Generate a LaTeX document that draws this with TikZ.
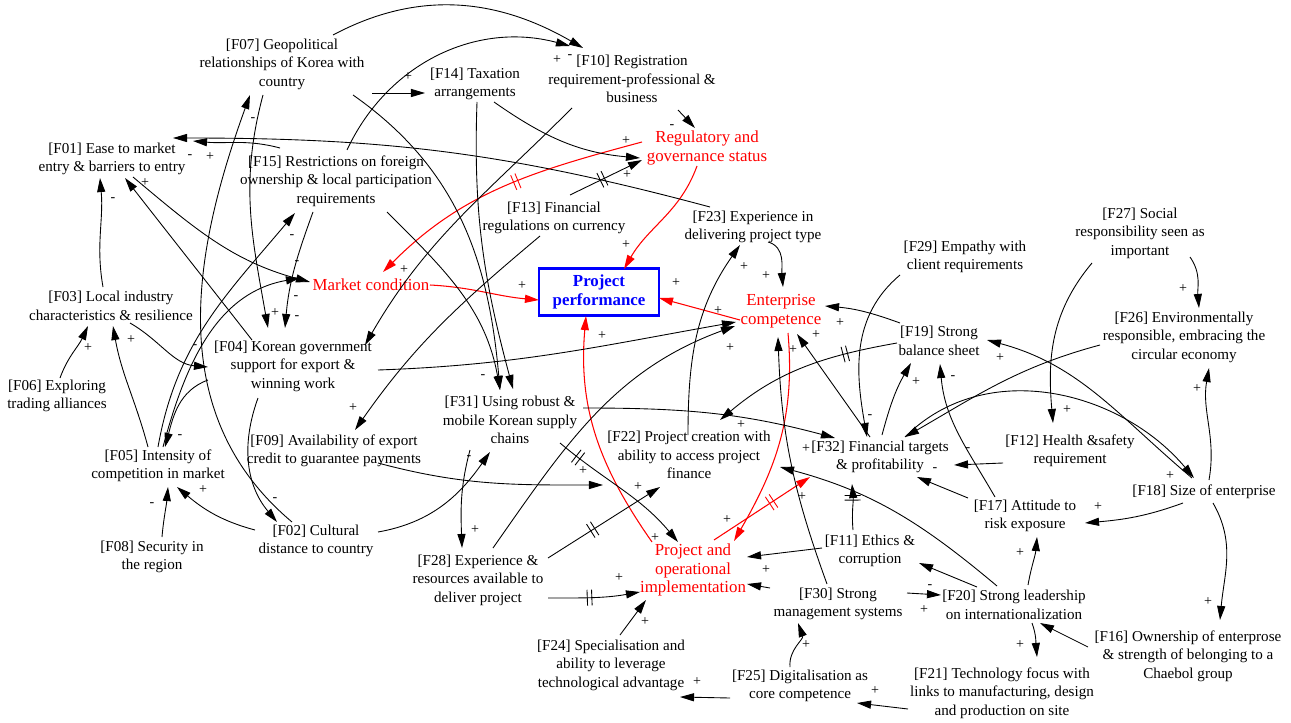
\documentclass[tikz,border=0pt]{standalone}
\usepackage{fontspec}
\setmainfont{Liberation Serif}
\usetikzlibrary{arrows.meta,calc,decorations.markings}

\begin{document}
\begin{tikzpicture}[x=0.02cm, y=-0.02cm,
  >={Triangle[length=8pt,width=4.6pt]},
  fac/.style={align=center, inner sep=1pt, font=\fontsize{8.6}{10.5}\selectfont},
  agg/.style={fac, text=red, font=\fontsize{9.6}{10.6}\selectfont},
  perfbox/.style={draw=blue, line width=1.2pt, text=blue, align=center, minimum width=2.4cm, minimum height=0.94cm, inner sep=1pt, font=\fontsize{9.6}{10.8}\selectfont\bfseries},
  link/.style={->, line width=0.5pt},
  rlink/.style={->, red, line width=0.6pt},
  pol/.style={inner sep=0pt, font=\fontsize{8}{9}\selectfont},
  delaymark/.style={postaction={decorate, decoration={markings, mark=at position #1 with {\draw[-, line width=0.5pt] (-1.3pt,-4.5pt) -- (-1.3pt,4.5pt) (1.3pt,-4.5pt) -- (1.3pt,4.5pt);}}}},
  delaymark/.default=0.5]
\useasboundingbox (0,0) rectangle (1291,723);

% factors
\node[fac] (f07) at (282,64) {[F07] Geopolitical\\relationships of Korea with\\country};
\node[fac] (f10) at (632,79) {[F10] Registration\\requirement-professional \&\\business};
\node[fac] (f14) at (475,84) {[F14] Taxation\\arrangements};
\node[fac] (f01) at (112,159) {[F01] Ease to market\\entry \& barriers to entry};
\node[fac] (f15) at (336,181) {[F15] Restrictions on foreign\\ownership \& local participation\\requirements};
\node[fac] (f13) at (554,218) {[F13] Financial\\regulations on currency};
\node[fac] (f23) at (753,227) {[F23] Experience in\\delivering project type};
\node[fac] (f27) at (1140,233) {[F27] Social\\responsibility seen as\\important};
\node[fac] (f29) at (965,257) {[F29] Empathy with\\client requirements};
\node[fac] (f03) at (111,306) {[F03] Local industry\\characteristics \& resilience};
\node[fac] (f26) at (1184,337) {[F26] Environmentally\\responsible, embracing the\\circular economy};
\node[fac] (f19) at (939,341) {[F19] Strong\\balance sheet};
\node[fac] (f04) at (293,366) {[F04] Korean government\\support for export \&\\winning work};
\node[fac] (f06) at (57,396) {[F06] Exploring\\trading alliances};
\node[fac] (f31) at (510,420) {[F31] Using robust \&\\mobile Korean supply\\chains};
\node[fac] (f09) at (334,451) {[F09] Availability of export\\credit to guarantee payments};
\node[fac] (f22) at (689,455) {[F22] Project creation with\\ability to access project\\finance};
\node[fac] (f32) at (880,457) {[F32] Financial targets\\\& profitability};
\node[fac] (f12) at (1070,451) {[F12] Health \&safety\\requirement};
\node[fac] (f05) at (158,466) {[F05] Intensity of\\competition in market};
\node[fac] (f18) at (1204,492) {[F18] Size of enterprise};
\node[fac] (f17) at (1025,516) {[F17] Attitude to\\risk exposure};
\node[fac] (f02) at (316,541) {[F02] Cultural\\distance to country};
\node[fac] (f11) at (870,551) {[F11] Ethics \&\\corruption};
\node[fac] (f08) at (152,557) {[F08] Security in\\the region};
\node[fac] (f28) at (478,580) {[F28] Experience \&\\resources available to\\deliver project};
\node[fac] (f30) at (838,604) {[F30] Strong\\management systems};
\node[fac] (f20) at (1014,605) {[F20] Strong leadership\\on internationalization};
\node[fac] (f24) at (611,665) {[F24] Specialisation and\\ability to leverage\\technological advantage};
\node[fac] (f16) at (1188,656) {[F16] Ownership of enterprose\\\& strength of belonging to a\\Chaebol group};
\node[fac] (f25) at (800,686) {[F25] Digitalisation as\\core competence};
\node[fac] (f21) at (1002,693) {[F21] Technology focus with\\links to manufacturing, design\\and production on site};

% aggregates
\node[agg] (reg) at (707,148) {Regulatory and\\governance status};
\node[agg] (mkt) at (371,285) {Market condition};
\node[agg] (ent) at (781,311) {Enterprise\\competence};
\node[agg] (poi) at (693,570) {Project and\\operational\\implementation};
\node[perfbox] (perf) at (599,292) {Project\\performance};

% red links
\draw[rlink] ($(mkt)+(59,0)$) to[out=-3,in=175] ($(perf)+(-60,8)$);
\draw[rlink] ($(ent)+(-41,9)$) -- ($(perf)+(60,6)$);
\draw[rlink] ($(reg)+(-10,18)$) to[out=-110,in=60] ($(perf)+(25,-23)$);
\draw[rlink, delaymark=0.45] ($(reg)+(-65,-6)$) to[out=195,in=45] ($(mkt)+(12,-13)$);
\draw[rlink] ($(poi)+(-41,-28)$) to[out=125,in=-95] ($(perf)+(-13,24)$);
\draw[rlink] ($(ent)+(7,22)$) to[out=-85,in=60] ($(poi)+(41,-29)$);
\draw[rlink, delaymark=0.6] ($(poi)+(21,-30)$) -- ($(f32)+(-70,20)$);

% black links
\draw[link] ($(f07)+(51,-29)$) to[out=28,in=150] ($(f10)+(-49,-31)$);
\draw[link] ($(f15)+(11,-31)$) to[out=65,in=165] ($(f10)+(-62,-33)$);
\draw[link] ($(f07)+(90,29)$) -- ($(f14)+(-50,9)$);
\draw[link] ($(f10)+(46,31)$) -- ($(reg)+(-12,-20)$);
\draw[link] ($(f14)+(19,18)$) to[out=-35,in=175] ($(reg)+(-67,10)$);
\draw[link, delaymark=0.45] ($(f13)+(16,-23)$) -- ($(reg)+(-65,12)$);
\draw[link] ($(f23)+(-43,-20)$) to[out=165,in=0] ($(f01)+(61,-21)$);
\draw[link] ($(f15)+(-56,-33)$) to[out=165,in=-5] ($(f01)+(81,-18)$);
\draw[link] ($(f03)+(-8,-19)$) to[out=100,in=-85] ($(f01)+(-12,19)$);
\draw[link] ($(f04)+(-41,-26)$) to[out=128,in=-52] ($(f01)+(13,19)$);
\draw[link] ($(f01)+(21,18)$) to[out=-40,in=165] ($(mkt)+(-61,-3)$);
\draw[link] ($(f06)+(3,-18)$) to[out=70,in=-115] ($(f03)+(-23,20)$);
\draw[link] ($(f05)+(-10,-19)$) to[out=105,in=-80] ($(f03)+(2,20)$);
\draw[link] ($(f03)+(19,17)$) to[out=-30,in=175] ($(f04)+(-85,1)$);
\draw[link] ($(f04)+(-85,14)$) to[out=200,in=75] ($(f05)+(7,-19)$);
\draw[link] ($(f05)+(0,-19)$) to[out=80,in=230] ($(f15)+(-41,32)$);
\draw[link] ($(f05)+(5,-19)$) to[out=75,in=190] ($(mkt)+(-71,-7)$);
\draw[link] ($(f15)+(-23,31)$) to[out=-110,in=85] ($(f04)+(-8,-38)$);
\draw[link] ($(f07)+(-19,31)$) to[out=-105,in=100] ($(f04)+(-25,-38)$);
\draw[link] ($(f02)+(-24,-19)$) to[out=140,in=-110] ($(f07)+(-32,31)$);
\draw[link] ($(f04)+(-35,32)$) to[out=-110,in=130] ($(f02)+(-39,-19)$);
\draw[link] ($(f02)+(-61,-11)$) to[out=165,in=-40] ($(f05)+(19,21)$);
\draw[link] ($(f08)+(10,-20)$) to[out=85,in=-95] ($(f05)+(10,21)$);
\draw[link] ($(f02)+(62,-9)$) to[out=10,in=-125] ($(f31)+(-20,32)$);
\draw[link] ($(f09)+(44,12)$) to[out=-15,in=180] ($(f22)+(-86,30)$);
\draw[link] ($(f31)+(-40,30)$) to[out=-105,in=92] ($(f28)+(-16,-32)$);
\draw[link] ($(f28)+(15,-32)$) to[out=55,in=200] ($(ent)+(-46,15)$);
\draw[link, delaymark=0.4] ($(f28)+(70,-22)$) -- ($(f22)+(-29,32)$);
\draw[link, delaymark=0.45] ($(f28)+(70,18)$) to[out=0,in=190] ($(poi)+(-53,22)$);
\draw[link] ($(f24)+(9,-30)$) -- ($(poi)+(-47,30)$);
\draw[link] ($(f25)+(-70,12)$) -- ($(f24)+(69,32)$);
\draw[link] ($(f25)+(-10,-19)$) to[out=95,in=-70] ($(f30)+(-40,19)$);
\draw[link] ($(f21)+(-94,16)$) -- ($(f25)+(57,17)$);
\draw[link] ($(f20)+(18,18)$) to[out=-70,in=95] ($(f21)+(35,-36)$);
\draw[link] ($(f16)+(-100,-9)$) -- ($(f20)+(26,18)$);
\draw[link] ($(f18)+(9,11)$) to[out=-60,in=85] ($(f16)+(32,-36)$);
\draw[link] ($(f18)+(-21,11)$) to[out=200,in=5] ($(f17)+(60,7)$);
\draw[link] ($(f18)+(5,-12)$) to[out=80,in=-100] ($(f26)+(25,31)$);
\draw[link] ($(f18)+(-12,-14)$) to[out=140,in=-15] ($(f19)+(48,-1)$);
\draw[link] ($(f32)+(25,-20)$) to[out=45,in=130] ($(f18)+(-10,-14)$);
\draw[link] ($(f27)+(50,24)$) to[out=-55,in=95] ($(f26)+(15,-29)$);
\draw[link] ($(f27)+(-48,30)$) to[out=-130,in=95] ($(f12)+(-17,-28)$);
\draw[link] ($(f29)+(-65,18)$) to[out=-140,in=100] ($(f32)+(-13,-20)$);
\draw[link] ($(f32)+(2,-22)$) to[out=75,in=-120] ($(f19)+(-28,22)$);
\draw[link] ($(f17)+(-30,-19)$) to[out=120,in=-85] ($(f19)+(1,23)$);
\draw[link] ($(f19)+(-39,-18)$) to[out=160,in=-5] ($(ent)+(44,-5)$);
\draw[link] ($(f32)+(-10,-20)$) -- ($(ent)+(16,23)$);
\draw[link] ($(f12)+(-67,12)$) -- ($(f32)+(74,8)$);
\draw[link] ($(f17)+(-57,-18)$) -- ($(f32)+(37,20)$);
\draw[link, delaymark=0.7] ($(f11)+(-17,-21)$) to[out=95,in=-85] ($(f32)+(-28,27)$);
\draw[link] ($(f20)+(-17,-19)$) to[out=140,in=-15] ($(f22)+(91,12)$);
\draw[link] ($(f30)+(-11,-20)$) to[out=110,in=-88] ($(ent)+(-3,26)$);
\draw[link] ($(f23)+(15,15)$) to[out=-15,in=95] ($(ent)+(2,-24)$);
\draw[link] ($(f22)+(-1,-20)$) to[out=90,in=235] ($(f23)+(-13,18)$);
\draw[link] ($(f31)+(73,-12)$) to[out=0,in=165] ($(f32)+(-45,-19)$);
\draw[link] ($(f04)+(85,4)$) to[out=2,in=190] ($(ent)+(-45,11)$);
\draw[link] ($(f13)+(-14,18)$) to[out=220,in=55] ($(f09)+(21,-21)$);
\draw[link] ($(f10)+(-60,29)$) to[out=225,in=60] ($(f04)+(72,-21)$);
\draw[link] ($(f15)+(51,31)$) to[out=-45,in=100] ($(f31)+(-10,-30)$);
\draw[link] ($(f14)+(2,18)$) to[out=-92,in=105] ($(f31)+(3,-31)$);
\draw[link] ($(f07)+(71,31)$) to[out=-35,in=95] ($(f31)+(-10,-30)$);
\draw[link] ($(f11)+(-48,-3)$) -- ($(poi)+(54,-13)$);
\draw[link] ($(f30)+(-68,-16)$) -- ($(poi)+(54,14)$);
\draw[link] ($(f30)+(69,-11)$) -- ($(f20)+(-73,-10)$);
\draw[link] ($(f20)+(-37,-18)$) -- ($(f11)+(49,12)$);
\draw[link] ($(f20)+(14,-20)$) to[out=80,in=-95] ($(f17)+(12,21)$);
\draw[link] ($(f26)+(-84,8)$) to[out=195,in=30] ($(f32)+(25,-20)$);
\draw[link, delaymark=0.27] ($(f19)+(-42,2)$) to[out=190,in=40] ($(f22)+(31,-35)$);
\draw[link, delaymark=0.15] ($(f31)+(50,23)$) to[out=-40,in=130] ($(poi)+(-15,-28)$);

% polarities
\foreach \px/\py [count=\i] in {408/77,557/60,210/157,145/183,626/141,627/175,626/245,404/270,275/313,522/286,676/283,744/267,766/276,718/311,602/336,730/348,793/350,840/323,816/335,1183/289,1000/358,916/382,1197/389,88/348,131/340,353/408,741/425,806/449,583/471,638/487,1067/410,1170/476,1098/507,1020/553,924/610,1208/602,1020/645,875/691,203/490,475/530,655/538,727/520,619/578,645/622,766/570,697/682,806/645,802/497}
  \node[pol] (plus\i) at (\px,\py) {+};
\foreach \px/\py [count=\i] in {190/157,570/57,113/200,253/120,292/237,297/263,296/298,297/318,672/127,195/347,180/437,953/378,483/377,469/458,870/417,968/450,935/470,930/587,152/505,275/500}
  \node[pol] (minus\i) at (\px,\py) {-};
\end{tikzpicture}
\end{document}
